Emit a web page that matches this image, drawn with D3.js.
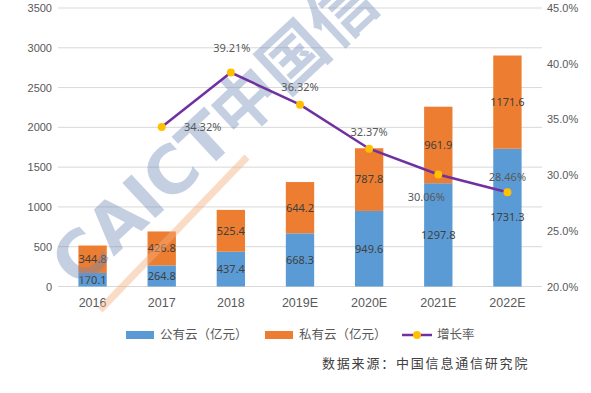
<!DOCTYPE html>
<html>
<head>
<meta charset="utf-8">
<script src="https://cdn.jsdelivr.net/npm/d3@7"></script>
<style>
  body { margin: 0; background: #fff; }
  svg { font-family: "Noto Sans", "Noto Sans CJK SC", sans-serif; }
</style>
</head>
<body>
<div id="chart"></div>
<script>
// data
let years = ['2016', '2017', '2018', '2019E', '2020E', '2021E', '2022E'];
let publicCloud = [170.1, 264.8, 437.4, 668.3, 949.6, 1297.8, 1731.3];
let privateCloud = [344.8, 426.8, 525.4, 644.2, 787.8, 961.9, 1171.6];
let growth = [null, 34.32, 39.21, 36.32, 32.37, 30.06, 28.46];
let leftTicks = [0, 500, 1000, 1500, 2000, 2500, 3000, 3500];
let rightTicks = [20, 25, 30, 35, 40, 45];
let seriesNames = ['公有云（亿元）', '私有云（亿元）', '增长率'];
let sourceText = '数据来源：中国信息通信研究院';
let watermarkText = 'CAICT中国信';

// layout
let config = { svg: {}, plot: {} };
config.svg.width = 591;
config.svg.height = 393;
config.plot.left = 58;
config.plot.right = 542;
config.plot.top = 8;
config.plot.bottom = 286.5;

let colors = { pub: '#5B9BD5', priv: '#ED7D31', line: '#7030A0', dot: '#FFC000', text: '#595959', grid: '#d9d9d9' };

let svg = d3.select('#chart').append('svg')
  .attr('width', config.svg.width)
  .attr('height', config.svg.height);

let x = d3.scaleBand()
  .domain(years)
  .range([config.plot.left, config.plot.right])
  .paddingInner(0.59)
  .paddingOuter(0.295);

let y = d3.scaleLinear()
  .domain([0, 3500])
  .range([config.plot.bottom, config.plot.top]);

let y2 = d3.scaleLinear()
  .domain([20, 45])
  .range([config.plot.bottom, config.plot.top]);

// gridlines
svg.append('g')
  .selectAll('line')
  .data(leftTicks)
  .enter().append('line')
  .attr('x1', config.plot.left)
  .attr('x2', config.plot.right)
  .attr('y1', d => y(d))
  .attr('y2', d => y(d))
  .style('stroke', colors.grid)
  .style('stroke-width', 1);

// left axis
let leftAxis = svg.append('g')
  .attr('transform', 'translate(' + (config.plot.left - 6) + ',0)')
  .call(d3.axisLeft(y).tickValues(leftTicks).tickSize(0).tickPadding(0).tickFormat(d3.format('d')));
leftAxis.select('.domain').remove();
leftAxis.selectAll('text').style('font-size', '11px').style('fill', colors.text);

// right axis
let rightAxis = svg.append('g')
  .attr('transform', 'translate(' + (config.plot.right + 5) + ',0)')
  .call(d3.axisRight(y2).tickValues(rightTicks).tickSize(0).tickPadding(0)
    .tickFormat(d => d.toFixed(1) + '%'));
rightAxis.select('.domain').remove();
rightAxis.selectAll('text').style('font-size', '11px').style('fill', colors.text);

// x axis labels
let xAxis = svg.append('g')
  .attr('transform', 'translate(0,' + (config.plot.bottom + 12) + ')')
  .call(d3.axisBottom(x).tickSize(0).tickPadding(0));
xAxis.select('.domain').remove();
xAxis.selectAll('text').style('font-size', '12.5px').style('fill', colors.text);

// stacked bars
let rows = years.map((yr, i) => ({ year: yr, pub: publicCloud[i], priv: privateCloud[i] }));
let stack = d3.stack().keys(['pub', 'priv'])(rows);

let layers = svg.append('g').selectAll('g')
  .data(stack)
  .enter().append('g')
  .style('fill', d => colors[d.key]);

layers.selectAll('rect')
  .data(d => d)
  .enter().append('rect')
  .attr('x', d => x(d.data.year))
  .attr('width', x.bandwidth())
  .attr('y', d => y(d[1]))
  .attr('height', d => y(d[0]) - y(d[1]));

// watermark
svg.append('line')
  .attr('x1', 100).attr('y1', 310).attr('x2', 247).attr('y2', 157)
  .style('stroke', '#F4B183')
  .style('stroke-width', 7)
  .style('opacity', 0.45);
svg.append('text')
  .attr('transform', 'translate(78,290) rotate(-43)')
  .style('font-size', '66px')
  .style('font-weight', 'bold')
  .style('font-family', '"DejaVu Sans", "Noto Sans CJK SC", sans-serif')
  .style('fill', '#7089B8')
  .style('opacity', 0.4)
  .text(watermarkText);

// bar value labels
layers.selectAll('text')
  .data(d => d)
  .enter().append('text')
  .attr('x', d => x(d.data.year) + x.bandwidth() / 2)
  .attr('y', d => (y(d[0]) + y(d[1])) / 2)
  .attr('dy', '0.35em')
  .attr('text-anchor', 'middle')
  .style('font-size', '11px')
  .style('fill', '#404040')
  .text(d => (d[1] - d[0]).toFixed(1));

// growth line
let pts = years.map((yr, i) => ({ year: yr, v: growth[i] })).filter(d => d.v !== null);
let cx = d => x(d.year) + x.bandwidth() / 2;

svg.append('path')
  .datum(pts)
  .attr('d', d3.line().x(cx).y(d => y2(d.v)))
  .style('fill', 'none')
  .style('stroke', colors.line)
  .style('stroke-width', 2.5);

svg.append('g').selectAll('circle')
  .data(pts)
  .enter().append('circle')
  .attr('cx', cx)
  .attr('cy', d => y2(d.v))
  .attr('r', 4)
  .style('fill', colors.dot);

// label offsets from each point (dx, dy of the text centre)
let labelOffset = {
  '2017': [41, 0],
  '2018': [1, -24],
  '2019E': [0, -18],
  '2020E': [0, -17],
  '2021E': [-12, 23],
  '2022E': [0, -15]
};
svg.append('g').selectAll('text')
  .data(pts)
  .enter().append('text')
  .attr('x', d => cx(d) + labelOffset[d.year][0])
  .attr('y', d => y2(d.v) + labelOffset[d.year][1])
  .attr('dy', '0.35em')
  .attr('text-anchor', 'middle')
  .style('font-size', '11px')
  .style('fill', colors.text)
  .text(d => d.v.toFixed(2) + '%');

// legend
let legend = svg.append('g').attr('transform', 'translate(0,335)');
let legendItems = [
  { name: seriesNames[0], type: 'rect', color: colors.pub, x: 126 },
  { name: seriesNames[1], type: 'rect', color: colors.priv, x: 265 },
  { name: seriesNames[2], type: 'line', color: colors.line, x: 402 }
];
legendItems.forEach(function (item) {
  if (item.type === 'rect') {
    legend.append('rect')
      .attr('x', item.x).attr('y', -4).attr('width', 28).attr('height', 8)
      .style('fill', item.color);
  } else {
    legend.append('line')
      .attr('x1', item.x).attr('x2', item.x + 30).attr('y1', 0).attr('y2', 0)
      .style('stroke', item.color).style('stroke-width', 2.5);
    legend.append('circle')
      .attr('cx', item.x + 15).attr('cy', 0).attr('r', 4)
      .style('fill', colors.dot);
  }
  legend.append('text')
    .attr('x', item.x + (item.type === 'rect' ? 34 : 35))
    .attr('y', 0)
    .attr('dy', '0.35em')
    .style('font-size', '12.5px')
    .style('fill', colors.text)
    .text(item.name);
});

// source note
svg.append('text')
  .attr('x', 322)
  .attr('y', 368)
  .style('font-size', '13px')
  .style('letter-spacing', '1.8px')
  .style('fill', '#404040')
  .text(sourceText);
</script>
</body>
</html>
